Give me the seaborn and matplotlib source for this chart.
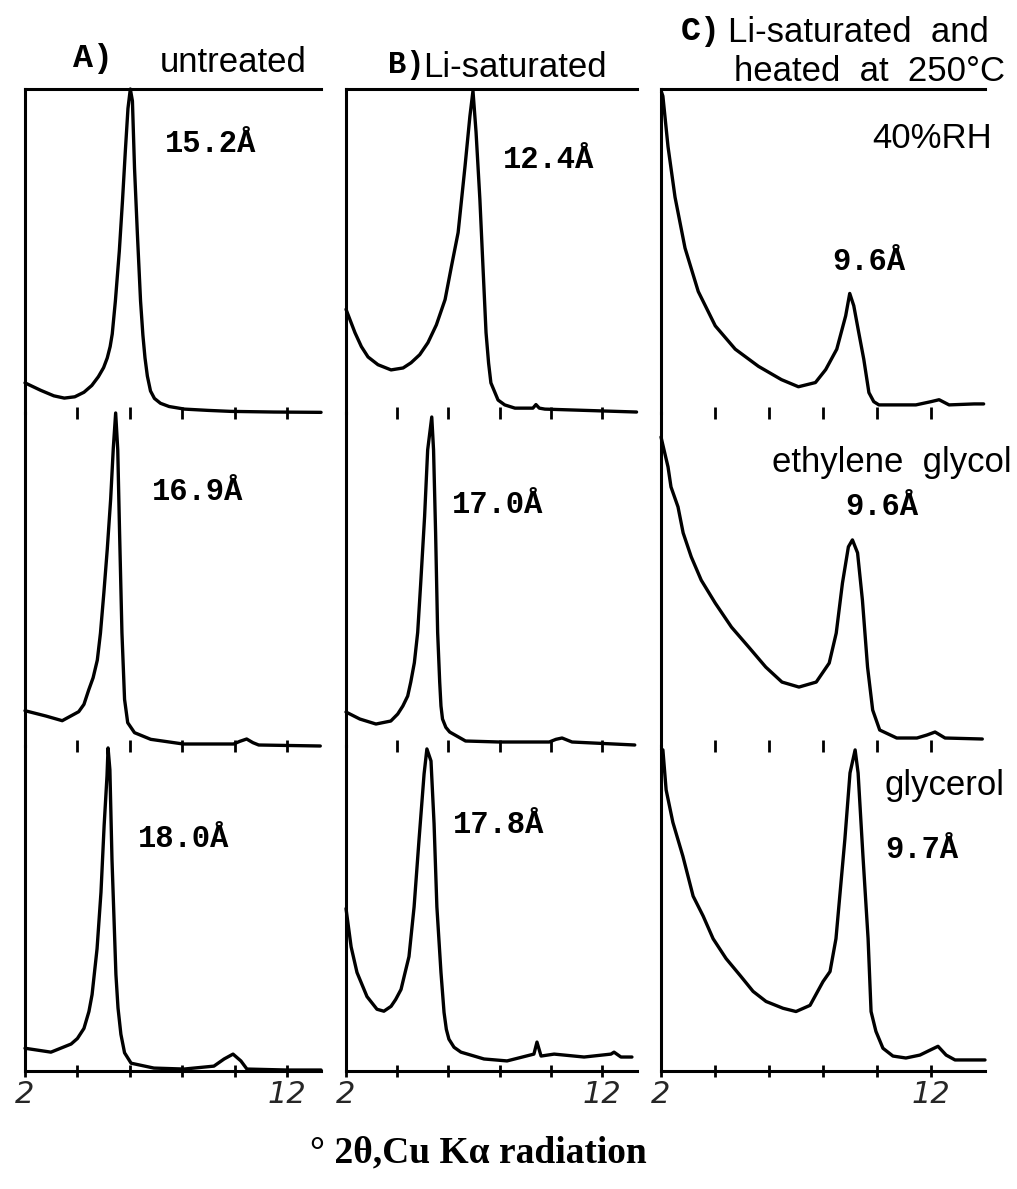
import matplotlib
matplotlib.use("Agg")
import matplotlib.pyplot as plt
import pandas as pd
import seaborn as sns

# ---------------- data (2-theta in degrees, relative intensity 0..1 per panel) -------------
a1_x = [2.0, 2.6, 3.1, 3.5, 3.9, 4.25, 4.55, 4.8, 5.0, 5.14, 5.25, 5.33, 5.45, 5.6, 5.72, 5.83,
        5.93, 6.02, 6.1, 6.18, 6.29, 6.41, 6.5, 6.58, 6.67, 6.79, 6.94, 7.17, 7.5, 8.09, 9.0,
        9.85, 11.5, 13.3]
a1_y = [0.093, 0.07, 0.053, 0.046, 0.05, 0.064, 0.085, 0.112, 0.14, 0.17, 0.205, 0.244, 0.346,
        0.5, 0.654, 0.809, 0.94, 1.0, 0.963, 0.756, 0.552, 0.346, 0.24, 0.17, 0.114, 0.068, 0.045,
        0.03, 0.02, 0.012, 0.008, 0.005, 0.003, 0.002]

a2_x = [2.0, 2.8, 3.42, 4.05, 4.25, 4.43, 4.6, 4.76, 4.88, 5.01, 5.14, 5.27, 5.37, 5.46, 5.54,
        5.61, 5.7, 5.8, 5.92, 6.18, 6.8, 8.04, 9.96, 10.2, 10.46, 10.7, 10.92, 13.27]
a2_y = [0.106, 0.09, 0.076, 0.103, 0.125, 0.168, 0.205, 0.258, 0.339, 0.46, 0.591, 0.742, 0.894,
        1.0, 0.89, 0.64, 0.34, 0.14, 0.07, 0.04, 0.02, 0.006, 0.006, 0.014, 0.021, 0.01, 0.003,
        0.0]

a3_x = [2.0, 2.99, 3.76, 4.0, 4.25, 4.44, 4.56, 4.75, 4.9, 5.02, 5.13, 5.17, 5.24, 5.32, 5.47,
        5.55, 5.66, 5.8, 6.05, 6.92, 8.07, 9.21, 9.6, 9.94, 10.24, 10.47, 12.0, 13.3]
a3_y = [0.07, 0.058, 0.083, 0.1, 0.131, 0.183, 0.235, 0.376, 0.55, 0.755, 0.908, 0.994, 0.927,
        0.651, 0.297, 0.194, 0.113, 0.056, 0.024, 0.009, 0.006, 0.015, 0.037, 0.052, 0.031, 0.006,
        0.003, 0.003]

b1_x = [2.0, 2.35, 2.6, 2.86, 3.25, 3.76, 4.23, 4.54, 4.88, 5.2, 5.53, 5.87, 6.12, 6.38, 6.65,
        6.84, 6.96, 7.08, 7.23, 7.35, 7.47, 7.57, 7.66, 7.94, 8.2, 8.6, 9.3, 9.42, 9.55, 9.77,
        13.35]
b1_y = [0.32, 0.248, 0.205, 0.173, 0.149, 0.133, 0.139, 0.155, 0.18, 0.217, 0.272, 0.35, 0.453,
        0.557, 0.762, 0.916, 0.994, 0.867, 0.659, 0.452, 0.248, 0.154, 0.093, 0.04, 0.025, 0.015,
        0.015, 0.026, 0.015, 0.012, 0.003]

b2_x = [2.0, 2.54, 3.17, 3.75, 4.02, 4.22, 4.41, 4.53, 4.67, 4.8, 4.92, 5.07, 5.19, 5.35, 5.42,
        5.5, 5.58, 5.66, 5.71, 5.77, 5.9, 6.05, 6.67, 7.99, 9.94, 10.2, 10.44, 10.83, 13.28]
b2_y = [0.102, 0.081, 0.066, 0.075, 0.096, 0.12, 0.15, 0.192, 0.25, 0.341, 0.491, 0.689, 0.889,
        0.988, 0.889, 0.641, 0.341, 0.192, 0.12, 0.081, 0.056, 0.042, 0.015, 0.012, 0.012, 0.02,
        0.024, 0.012, 0.003]

b3_x = [2.0, 2.2, 2.43, 2.82, 3.21, 3.48, 3.76, 3.94, 4.15, 4.29, 4.46, 4.66, 4.85, 5.05, 5.16,
        5.32, 5.44, 5.55, 5.71, 5.83, 5.92, 6.02, 6.22, 6.49, 7.39, 8.29, 9.34, 9.46, 9.62, 10.13,
        11.3, 12.35, 12.47, 12.74, 13.17]
b3_y = [0.5, 0.382, 0.303, 0.229, 0.19, 0.184, 0.199, 0.22, 0.251, 0.297, 0.352, 0.505, 0.709,
        0.914, 0.991, 0.954, 0.761, 0.505, 0.303, 0.18, 0.128, 0.098, 0.073, 0.058, 0.037, 0.031,
        0.052, 0.089, 0.046, 0.052, 0.043, 0.052, 0.058, 0.043, 0.043]

c1_x = [2.02, 2.07, 2.26, 2.52, 2.89, 3.38, 4.01, 4.75, 5.61, 6.46, 7.09, 7.72, 8.1, 8.51, 8.84,
        8.99, 9.14, 9.32, 9.51, 9.7, 9.88, 10.07, 11.44, 12.0, 12.3, 12.67, 13.6, 13.95]
c1_y = [0.99, 0.978, 0.822, 0.666, 0.509, 0.375, 0.269, 0.197, 0.144, 0.103, 0.081, 0.094, 0.134,
        0.197, 0.3, 0.369, 0.331, 0.25, 0.166, 0.063, 0.035, 0.025, 0.025, 0.035, 0.041, 0.025,
        0.028, 0.028]

c2_x = [2.0, 2.26, 2.37, 2.63, 2.82, 3.12, 3.49, 4.01, 4.61, 5.25, 5.88, 6.48, 7.11, 7.75, 8.23,
        8.49, 8.72, 8.94, 9.09, 9.28, 9.46, 9.65, 9.84, 10.1, 10.73, 11.48, 11.85, 12.15, 12.52,
        13.9]
c2_y = [0.928, 0.838, 0.778, 0.718, 0.64, 0.568, 0.498, 0.429, 0.357, 0.297, 0.237, 0.192, 0.177,
        0.192, 0.249, 0.339, 0.489, 0.598, 0.619, 0.58, 0.438, 0.237, 0.108, 0.048, 0.024, 0.024,
        0.033, 0.042, 0.024, 0.021]

c3_x = [2.02, 2.07, 2.19, 2.44, 2.81, 3.19, 3.56, 3.93, 4.41, 4.93, 5.41, 5.89, 6.52, 7.0, 7.52,
        8.0, 8.26, 8.48, 8.81, 9.0, 9.19, 9.3, 9.48, 9.67, 9.78, 9.96, 10.22, 10.59, 11.07, 11.59,
        11.96, 12.26, 12.56, 12.89, 14.0]
c3_y = [0.99, 0.988, 0.865, 0.765, 0.661, 0.538, 0.477, 0.407, 0.346, 0.294, 0.245, 0.214, 0.193,
        0.183, 0.202, 0.275, 0.306, 0.407, 0.713, 0.917, 0.988, 0.917, 0.661, 0.407, 0.183, 0.122,
        0.07, 0.046, 0.04, 0.049, 0.064, 0.076, 0.049, 0.034, 0.034]

tick_values = [2, 4, 6, 8, 10, 12]
tick_labels = ["2", "", "", "", "", "12"]

column_titles = ["untreated", "Li-saturated"]
peak_labels = [["15.2Å", "16.9Å", "18.0Å"],
               ["12.4Å", "17.0Å", "17.8Å"],
               ["9.6Å", "9.6Å", "9.7Å"]]
x_label = "° 2θ,Cu Kα radiation"

# ---------------- layout ----------------
W, H = 1017, 1189
sns.set_style("white")
plt.rcParams['font.family'] = ['Liberation Sans', 'DejaVu Sans']

fig = plt.figure(figsize=(W / 100, H / 100), dpi=100)


def fx(x):
    return x / W


def fy(y):
    return 1 - y / H


col_left = [25, 346, 661]          # pixel position of 2 degrees
col_xmax = [13.3, 13.35, 14.0]
col_scale = [26.2, 25.6, 27.0]     # pixels per degree
row_edges = [89, 413, 746, 1071]

curves = [[(a1_x, a1_y), (a2_x, a2_y), (a3_x, a3_y)],
          [(b1_x, b1_y), (b2_x, b2_y), (b3_x, b3_y)],
          [(c1_x, c1_y), (c2_x, c2_y), (c3_x, c3_y)]]

LW = 2.4
for c in range(3):
    for r in range(3):
        left = fx(col_left[c])
        width = (col_xmax[c] - 2) * col_scale[c] / W
        bottom = fy(row_edges[r + 1])
        height = (row_edges[r + 1] - row_edges[r]) / H
        ax = fig.add_axes([left, bottom, width, height])
        ax.patch.set_alpha(0)
        xs, ys = curves[c][r]
        df = pd.DataFrame({"two_theta": xs, "intensity": ys})
        sns.lineplot(data=df, x="two_theta", y="intensity", ax=ax, color="black",
                     lw=LW, sort=False, estimator=None)
        for ln in ax.lines:
            ln.set_clip_on(False)
            ln.set_solid_joinstyle("round")
            ln.set_solid_capstyle("round")
        ax.set_xlim(2, col_xmax[c])
        ax.set_ylim(0, 1)
        ax.set_xlabel("")
        ax.set_ylabel("")
        ax.set_yticks([])
        for s in ["left", "top", "right", "bottom"]:
            ax.spines[s].set_color("black")
            ax.spines[s].set_linewidth(2.2)
        ax.spines["right"].set_visible(False)
        ax.spines["top"].set_visible(r == 0)
        ax.spines["bottom"].set_visible(r == 2)
        ax.set_xticks(tick_values)
        if r == 2:
            ax.set_xticklabels(tick_labels, fontsize=22, fontstyle="italic",
                               family="DejaVu Sans")
        else:
            ax.set_xticklabels([])
        ax.tick_params(axis="x", direction="inout", length=9, width=2.0, color="black",
                       bottom=True, top=False, pad=2, labelbottom=(r == 2))
        ax.grid(False)

# ---------------- texts ----------------
mono = dict(family="Liberation Mono", weight="bold", color="black")
sans = dict(family=["Liberation Sans", "DejaVu Sans"], color="black", fontsize=25)

fig.text(fx(73), fy(67), "A)", fontsize=24, ha="left", va="baseline", **mono)
fig.text(fx(160), fy(72), column_titles[0], ha="left", va="baseline", **sans)
fig.text(fx(388), fy(73), "B)", fontsize=22, ha="left", va="baseline", **mono)
fig.text(fx(423), fy(77), column_titles[1], ha="left", va="baseline", **sans)
fig.text(fx(681), fy(40), "C)", fontsize=24, ha="left", va="baseline", **mono)
fig.text(fx(728), fy(42), "Li-saturated  and", ha="left", va="baseline", **sans)
fig.text(fx(1005), fy(81), "heated  at  250°C", ha="right", va="baseline", **sans)
fig.text(fx(872), fy(148), "40%RH", ha="left", va="baseline", **sans)
fig.text(fx(772), fy(472), "ethylene  glycol", ha="left", va="baseline", **sans)
fig.text(fx(885), fy(795), "glycerol", ha="left", va="baseline", **sans)

label_pos = [[(165, 152), (152, 500), (138, 847)],
             [(503, 168), (452, 513), (453, 833)],
             [(832, 270), (845, 515), (885, 858)]]
for c in range(3):
    for r in range(3):
        x, y = label_pos[c][r]
        fig.text(fx(x), fy(y), peak_labels[c][r], fontsize=22, ha="left",
                 va="baseline", **mono)

fig.text(fx(478), fy(1162), x_label, fontsize=27, ha="center", va="baseline",
         family="Liberation Serif", weight="bold", color="black")

fig.savefig("out.png", dpi=100, facecolor="white")
